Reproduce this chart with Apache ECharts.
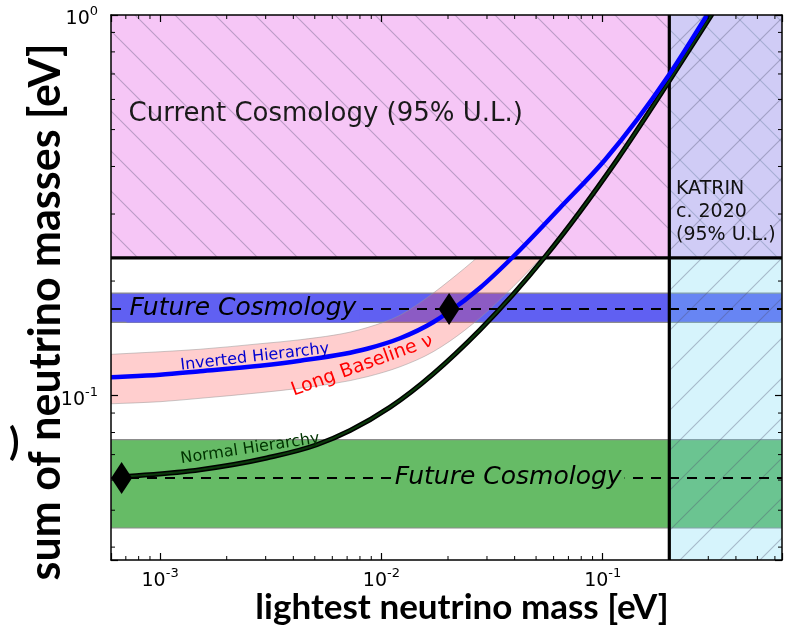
<!DOCTYPE html>
<html>
<head>
<meta charset="utf-8">
<script src="https://cdn.jsdelivr.net/npm/echarts@6/dist/echarts.min.js"></script>
<style>
  html, body { margin: 0; padding: 0; background: #ffffff; }
  #chart { width: 792px; height: 627px; }
</style>
</head>
<body>
<div id="chart"></div>
<script>
// ---- axis ranges (eV) ----
const xRange = [6.0e-4, 0.646];
const yRange = [0.037, 1.0];

// ---- minor tick positions ----
const xMinorTicks = [7e-4, 8e-4, 9e-4,
  2e-3, 3e-3, 4e-3, 5e-3, 6e-3, 7e-3, 8e-3, 9e-3,
  2e-2, 3e-2, 4e-2, 5e-2, 6e-2, 7e-2, 8e-2, 9e-2,
  0.2, 0.3, 0.4, 0.5, 0.6];
const yMinorTicks = [0.04, 0.05, 0.06, 0.07, 0.08, 0.09,
  0.2, 0.3, 0.4, 0.5, 0.6, 0.7, 0.8, 0.9];

// ---- limits and sensitivity bands ----
const cosmologyLimit = 0.23;        // current cosmology, 95% U.L.
const katrinLimit = 0.2;            // KATRIN c. 2020, 95% U.L.
const futureBandIH = [0.1557, 0.186];
const futureBandNH = [0.0449, 0.0766];
const futureLineIH = 0.169;
const futureLineNH = 0.0608;

// ---- inverted hierarchy: sum of masses vs lightest mass ----
const massIH = [6.0e-4, 1.0e-3, 1.516e-3, 2.83e-3, 4.29e-3, 8.62e-3, 1.215e-2, 1.713e-2,
  2.023e-2, 2.793e-2, 3.937e-2, 6.42e-2, 0.1025, 0.1995, 0.2964];
const sumIH = [0.1118, 0.1135, 0.1159, 0.1198, 0.1235, 0.1328, 0.1415, 0.1559,
  0.1661, 0.1921, 0.2317, 0.3117, 0.4167, 0.6967, 1.0];

// ---- normal hierarchy ----
const massNH = [6.4e-4, 1.516e-3, 3.035e-3, 5.107e-3, 7.22e-3, 1.095e-2,
  2.793e-2, 5.49e-2, 0.1162, 0.1975, 0.3103];
const sumNH = [0.0610, 0.0639, 0.0686, 0.0743, 0.0810, 0.0933,
  0.1490, 0.2317, 0.4167, 0.6640, 1.0];

// ---- long-baseline band around the inverted hierarchy ----
const massLB = [6.0e-4, 1.0e-3, 1.516e-3, 2.83e-3, 4.29e-3, 8.62e-3, 1.215e-2, 1.713e-2,
  2.023e-2, 2.793e-2, 3.937e-2, 6.42e-2];
const upperLB = [0.1284, 0.1304, 0.1324, 0.1369, 0.1402, 0.1509, 0.1627, 0.1858,
  0.2003, 0.2345, 0.2864, 0.3971];
const lowerLB = [0.0952, 0.0964, 0.0984, 0.1018, 0.1046, 0.1121, 0.1191, 0.1304,
  0.1386, 0.1602, 0.1933, 0.2600];

// ---- projected sensitivity points ----
const markerMass = [2.023e-2, 6.7e-4];
const markerSum = [0.169, 0.0608];

// ---------------------------------------------------------------
const FONT = '"DejaVu Sans", sans-serif';

function hatchTile(bg, dir) {
  const c = document.createElement('canvas');
  c.width = 40; c.height = 40;
  const g = c.getContext('2d');
  if (bg) { g.fillStyle = bg; g.fillRect(0, 0, 40, 40); }
  g.strokeStyle = 'rgba(80,80,110,0.36)';
  g.lineWidth = 1.1;
  g.beginPath();
  [-40, 0, 40].forEach(function (k) {
    if (dir === 'back') { g.moveTo(0, k); g.lineTo(40, 40 + k); }
    else { g.moveTo(0, 40 + k); g.lineTo(40, k); }
  });
  g.stroke();
  return c;
}

const pinkFill = { image: hatchTile('#f6c6f6', 'back'), repeat: 'repeat' };
const katrinFill = { image: hatchTile('rgba(120,220,245,0.30)', 'fwd'), repeat: 'repeat' };

// Cubic Hermite curve through pixel points (x monotonic), as SVG path commands
function smoothCmds(pts, start) {
  const n = pts.length;
  const h = [], d = [], m = [];
  for (let i = 0; i < n - 1; i++) {
    h.push(pts[i + 1][0] - pts[i][0]);
    d.push((pts[i + 1][1] - pts[i][1]) / h[i]);
  }
  for (let i = 0; i < n; i++) {
    if (i === 0) m.push(d[0]);
    else if (i === n - 1) m.push(d[n - 2]);
    else m.push((h[i] * d[i - 1] + h[i - 1] * d[i]) / (h[i - 1] + h[i]));
  }
  let s = (start ? 'M' : 'L') + pts[0][0].toFixed(2) + ' ' + pts[0][1].toFixed(2);
  for (let i = 0; i < n - 1; i++) {
    const k = h[i] / 3;
    s += ' C' + (pts[i][0] + k).toFixed(2) + ' ' + (pts[i][1] + m[i] * k).toFixed(2) + ' ' +
         (pts[i + 1][0] - k).toFixed(2) + ' ' + (pts[i + 1][1] - m[i + 1] * k).toFixed(2) + ' ' +
         pts[i + 1][0].toFixed(2) + ' ' + pts[i + 1][1].toFixed(2);
  }
  return s;
}

function curveSeries(name, xs, ys, color, width, z) {
  return {
    type: 'custom', name: name, z: z, silent: true, clip: true,
    data: xs.map(function (m, i) { return [m, ys[i]]; }),
    renderItem: function (params, api) {
      if (params.dataIndex !== 0) return null;
      const pts = xs.map(function (m, i) { return api.coord([m, ys[i]]); });
      return {
        type: 'path', shape: { pathData: smoothCmds(pts, true) },
        style: { fill: 'none', stroke: color, lineWidth: width, lineJoin: 'round', lineCap: 'round' }
      };
    }
  };
}

function rectSeries(name, rects, style, z) {
  return {
    type: 'custom', name: name, z: z, silent: true, clip: true,
    data: rects,
    renderItem: function (params, api) {
      const a = api.coord([api.value(0), api.value(3)]);
      const b = api.coord([api.value(1), api.value(2)]);
      return {
        type: 'rect',
        shape: { x: a[0], y: a[1], width: b[0] - a[0], height: b[1] - a[1] },
        style: style
      };
    }
  };
}

function lineSeries(name, pts, color, width, z, dash) {
  return {
    type: 'line', name: name, z: z, silent: true, clip: true,
    data: pts, showSymbol: false, symbol: 'none',
    lineStyle: { color: color, width: width, type: dash || 'solid' },
    animation: false
  };
}

function powerLabel(v) {
  const e = Math.log10(v);
  const r = Math.round(e);
  if (Math.abs(e - r) > 1e-6) return '';
  return '{b|10}{s|' + (r < 0 ? '-' : '') + Math.abs(r) + '}';
}
const labelRich = {
  b: { fontFamily: FONT, fontSize: 19, color: '#000', lineHeight: 28 },
  s: { fontFamily: FONT, fontSize: 13, color: '#000', verticalAlign: 'top' }
};

const notes = [
  { text: 'Current Cosmology (95% U.L.)', at: [7.2e-4, 0.547], font: '26px ' + FONT, fill: '#1a1a1a', align: 'left', rot: 0 },
  { text: 'KATRIN\nc. 2020\n(95% U.L.)', at: [0.2144, 0.3042], font: '19px ' + FONT, fill: '#111', align: 'left', rot: 0, lineHeight: 23 },
  { text: 'Future Cosmology', at: [7.05e-4, futureLineIH], font: 'italic 25px ' + FONT, fill: '#000', align: 'left', rot: 0, bg: '#6060f2' },
  { text: 'Future Cosmology', at: [1.115e-2, futureLineNH], font: 'italic 25px ' + FONT, fill: '#000', align: 'left', rot: 0, bg: '#66bb66' },
  { text: 'Inverted Hierarchy', at: [2.68e-3, 0.1262], font: '16px ' + FONT, fill: '#0000d0', align: 'center', rot: 6.5 },
  { text: 'Long Baseline \u03bd', at: [8.18e-3, 0.1199], font: '19px ' + FONT, fill: '#ff0000', align: 'center', rot: 20 },
  { text: 'Normal Hierarchy', at: [2.55e-3, 0.0725], font: '16px ' + FONT, fill: '#003300', align: 'center', rot: 8.5 }
];

const full = [xRange[0], xRange[1]];

const series = [
  // future-cosmology sensitivity bands
  rectSeries('future IH band', [[full[0], full[1], futureBandIH[0], futureBandIH[1]]],
    { fill: '#6060f2', stroke: '#8c8c8c', lineWidth: 1.2 }, 1),
  rectSeries('future NH band', [[full[0], full[1], futureBandNH[0], futureBandNH[1]]],
    { fill: '#66bb66', stroke: '#8c8c8c', lineWidth: 1.2 }, 1),
  // long-baseline band
  {
    type: 'custom', name: 'long baseline', z: 2, silent: true, clip: true,
    data: [[massLB[0], upperLB[0]]],
    renderItem: function (params, api) {
      const up = massLB.map(function (m, i) { return api.coord([m, upperLB[i]]); });
      const lo = massLB.map(function (m, i) { return api.coord([m, lowerLB[i]]); }).reverse();
      return {
        type: 'path',
        shape: { pathData: smoothCmds(up, true) + ' ' + smoothCmds(lo, false) + ' Z' },
        style: { fill: 'rgba(255,80,80,0.28)', stroke: 'rgba(150,150,150,0.5)', lineWidth: 1 }
      };
    }
  },
  // current cosmology excluded region
  rectSeries('current cosmology', [[full[0], full[1], cosmologyLimit, yRange[1]]],
    { fill: pinkFill }, 3),
  // KATRIN excluded region
  rectSeries('KATRIN', [[katrinLimit, full[1], yRange[0], yRange[1]]],
    { fill: katrinFill }, 4),
  // dashed sensitivity lines
  lineSeries('IH sensitivity', [[full[0], futureLineIH], [full[1], futureLineIH]], '#000', 2, 5, [10, 8]),
  lineSeries('NH sensitivity', [[full[0], futureLineNH], [full[1], futureLineNH]], '#000', 2, 5, [10, 8]),
  // limit boundaries
  lineSeries('cosmology limit', [[full[0], cosmologyLimit], [full[1], cosmologyLimit]], '#000', 3.2, 6),
  lineSeries('KATRIN limit', [[katrinLimit, yRange[0]], [katrinLimit, yRange[1]]], '#000', 3.2, 6),
  // hierarchy curves
  curveSeries('NH outline', massNH, sumNH, '#000', 5, 7),
  curveSeries('NH', massNH, sumNH, '#0b3a0b', 2, 7.1),
  curveSeries('IH', massIH, sumIH, '#0000ff', 4.5, 7.2),
  // sensitivity markers
  {
    type: 'scatter', name: 'markers', z: 8, silent: true,
    symbol: 'diamond', symbolSize: [21, 32],
    itemStyle: { color: '#000', opacity: 1 },
    data: markerMass.map(function (m, i) { return [m, markerSum[i]]; }),
    animation: false
  },
  // annotations
  {
    type: 'custom', name: 'annotations', z: 9, silent: true, clip: false,
    data: notes.map(function (n) { return [n.at[0], n.at[1]]; }),
    renderItem: function (params, api) {
      const n = notes[params.dataIndex];
      const p = api.coord([api.value(0), api.value(1)]);
      const style = {
        text: n.text, font: n.font, fill: n.fill,
        align: n.align, verticalAlign: 'middle'
      };
      if (n.lineHeight) style.lineHeight = n.lineHeight;
      if (n.bg) { style.backgroundColor = n.bg; style.padding = [1, 3, 1, 3]; }
      return { type: 'text', x: p[0], y: p[1], rotation: n.rot * Math.PI / 180, style: style };
    }
  },
  // minor ticks on all four sides
  {
    type: 'custom', name: 'x minor ticks', z: 10, silent: true, clip: false,
    data: xMinorTicks.map(function (v) { return [v, yRange[0]]; }),
    renderItem: function (params, api) {
      const b = api.coord([api.value(0), yRange[0]]);
      const t = api.coord([api.value(0), yRange[1]]);
      const ls = { stroke: '#000', lineWidth: 1 };
      return {
        type: 'group', children: [
          { type: 'line', shape: { x1: b[0], y1: b[1], x2: b[0], y2: b[1] - 4 }, style: ls },
          { type: 'line', shape: { x1: t[0], y1: t[1], x2: t[0], y2: t[1] + 4 }, style: ls }
        ]
      };
    }
  },
  {
    type: 'custom', name: 'y minor ticks', z: 10, silent: true, clip: false,
    data: yMinorTicks.map(function (v) { return [xRange[0], v]; }),
    renderItem: function (params, api) {
      const l = api.coord([xRange[0], api.value(1)]);
      const r = api.coord([xRange[1], api.value(1)]);
      const ls = { stroke: '#000', lineWidth: 1 };
      return {
        type: 'group', children: [
          { type: 'line', shape: { x1: l[0], y1: l[1], x2: l[0] + 4, y2: l[1] }, style: ls },
          { type: 'line', shape: { x1: r[0], y1: r[1], x2: r[0] - 4, y2: r[1] }, style: ls }
        ]
      };
    }
  }
];

function axisBase(extent, position, withLabels, isY) {
  return {
    type: 'log', logBase: 10, min: extent[0], max: extent[1], position: position, z: 20,
    axisLine: { show: true, onZero: false, lineStyle: { color: '#000', width: 1.5 } },
    axisTick: { show: true, inside: true, length: 7, lineStyle: { color: '#000', width: 1.2 } },
    minorTick: { show: false },
    splitLine: { show: false },
    axisLabel: withLabels ? {
      show: true, margin: isY ? 13 : 7, formatter: powerLabel, rich: labelRich,
      padding: isY ? [8, 0, 0, 0] : 0, hideOverlap: false,
      showMinLabel: true, showMaxLabel: true
    } : { show: false }
  };
}

const option = {
  animation: false,
  backgroundColor: '#ffffff',
  grid: { left: 111, right: 10, top: 15, bottom: 67, containLabel: false, outerBoundsMode: 'none' },
  xAxis: [axisBase(xRange, 'bottom', true, false), axisBase(xRange, 'top', false, false)],
  yAxis: [axisBase(yRange, 'left', true, true), axisBase(yRange, 'right', false, true)],
  series: series,
  graphic: [
    {
      type: 'text', x: 462, y: 608, z: 30, silent: true,
      style: { text: 'lightest neutrino mass [eV]', font: 'bold 35px Lato, sans-serif', fill: '#000', align: 'center', verticalAlign: 'middle' }
    },
    {
      type: 'text', x: 68, y: 312, rotation: Math.PI / 2, z: 30, silent: true,
      style: { text: 'sum of neutrino masses [eV]', font: 'bold 43px Lato, sans-serif', fill: '#000', align: 'center', verticalAlign: 'bottom' }
    },
    {
      type: 'text', left: 9, top: 424, z: 31, silent: true,
      style: { text: ')', font: 'bold 38px Lato, sans-serif', fill: '#000' }
    }
  ]
};

const chart = echarts.init(document.getElementById('chart'), null, { renderer: 'canvas' });
chart.setOption(option);
</script>
</body>
</html>
